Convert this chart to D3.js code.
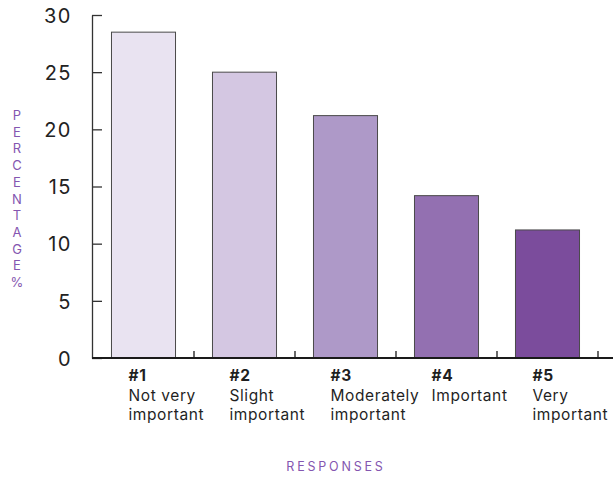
<!DOCTYPE html>
<html>
<head>
<meta charset="utf-8">
<script src="https://cdn.jsdelivr.net/npm/d3@7"></script>
<style>
  html, body { margin: 0; padding: 0; background: #fff; }
  svg { display: block; }
</style>
</head>
<body>
<svg id="chart" width="613" height="478"></svg>
<script>
// Survey responses: share of respondents per importance level
const ranks = ["#1", "#2", "#3", "#4", "#5"];
const labels = [["Not very", "important"], ["Slight", "important"], ["Moderately", "important"], ["Important"], ["Very", "important"]];
const percentages = [28.5, 25.0, 21.2, 14.2, 11.2];
const barColors = ["#e9e3f1", "#d4c7e2", "#ae99c8", "#9370b1", "#7b4c9c"];
const yTicks = [0, 5, 10, 15, 20, 25, 30];

const svg = d3.select("#chart");
const font = "Inter, 'Noto Sans', sans-serif";
const purple = "#8456b0";

const x = d3.scaleBand().domain(ranks).range([93, 598]).paddingInner(0.366).paddingOuter(0.183);
const y = d3.scaleLinear().domain([0, 30]).range([358, 15]);

// bars
svg.append("g").selectAll("rect")
  .data(percentages)
  .join("rect")
  .attr("x", (d, i) => x(ranks[i]))
  .attr("y", d => y(d))
  .attr("width", x.bandwidth())
  .attr("height", d => y(0) - y(d))
  .attr("fill", (d, i) => barColors[i])
  .attr("stroke", "#4a4a4a")
  .attr("stroke-width", 1);

// y axis: ticks point inward, labels on the left
const yAxis = svg.append("g").attr("transform", "translate(92,0)")
  .call(d3.axisRight(y).tickValues(yTicks).tickSize(10).tickSizeOuter(0).tickFormat(d3.format("d")));
yAxis.select(".domain").attr("stroke", "#333").attr("stroke-width", 1.3);
yAxis.selectAll(".tick line").attr("stroke", "#333").attr("stroke-width", 1.3);
yAxis.selectAll(".tick text")
  .attr("x", -20).attr("text-anchor", "end").attr("dy", "0.36em")
  .attr("fill", "#222").style("font-family", font).style("font-size", "20px")
  .style("letter-spacing", "1.5px");

// x axis baseline with small upward ticks at band boundaries
const xg = svg.append("g");
xg.append("line").attr("x1", 92).attr("x2", 613).attr("y1", y(0)).attr("y2", y(0))
  .attr("stroke", "#1a1a1a").attr("stroke-width", 2);
xg.selectAll("line.tk").data(ranks).join("line").attr("class", "tk")
  .attr("x1", d => x(d) + x.step() - x.step() * x.paddingInner() / 2)
  .attr("x2", d => x(d) + x.step() - x.step() * x.paddingInner() / 2)
  .attr("y1", y(0)).attr("y2", y(0) - 7)
  .attr("stroke", "#1a1a1a").attr("stroke-width", 1.3);

// category labels
const lab = svg.append("g").selectAll("text").data(ranks).join("text")
  .attr("x", d => x(d) + 17)
  .attr("y", 381)
  .attr("fill", "#1f1f1f")
  .style("font-family", font).style("font-size", "15.5px").style("letter-spacing", "0.6px");
lab.each(function (d, i) {
  const t = d3.select(this);
  t.append("tspan").attr("x", x(d) + 17).attr("dy", 0).style("font-weight", "700").text(d);
  labels[i].forEach(line => {
    t.append("tspan").attr("x", x(d) + 17).attr("dy", 19.5).text(line);
  });
});

// axis titles
svg.append("text").attr("x", 336).attr("y", 471).attr("text-anchor", "middle")
  .attr("fill", purple).style("font-family", font).style("font-size", "12.5px")
  .style("letter-spacing", "2.8px").text("RESPONSES");

const ytitle = "PERCENTAGE%".split("");
svg.append("g").selectAll("text").data(ytitle).join("text")
  .attr("x", 17).attr("y", (d, i) => 120 + i * 16.7)
  .attr("text-anchor", "middle").attr("fill", purple)
  .style("font-family", font).style("font-size", "13px").text(d => d);
</script>
</body>
</html>
